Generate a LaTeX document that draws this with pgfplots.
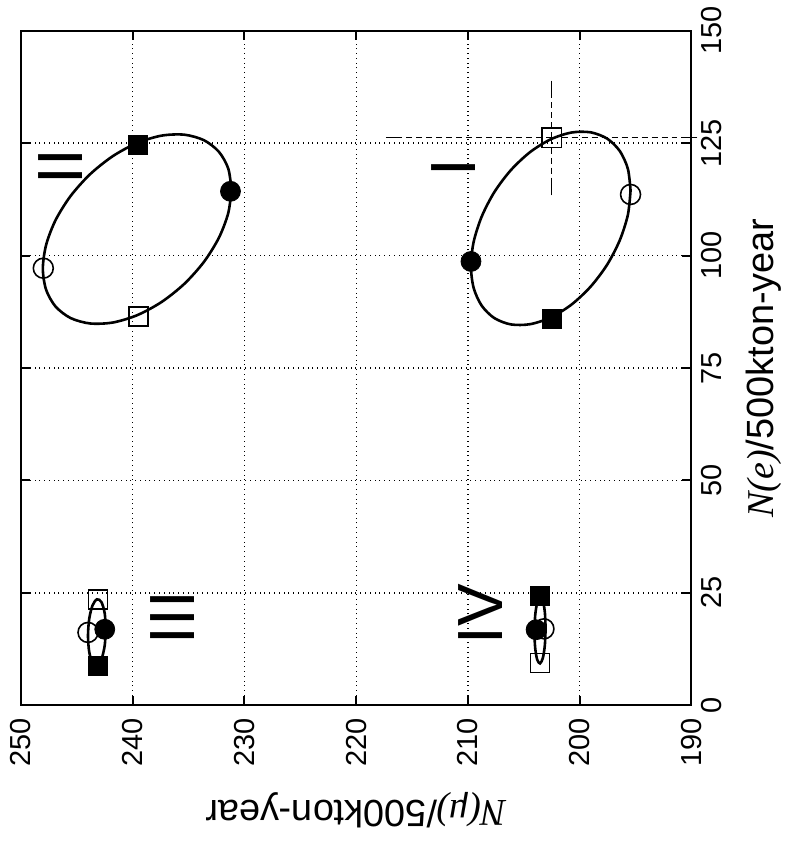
\documentclass[border=0pt]{standalone}
\usepackage{pgfplots}
\pgfplotsset{compat=1.18}
\usepackage{fontspec}
\setmainfont{Liberation Sans}
\newfontfamily\serifit{Liberation Serif}[UprightFont=*-Italic]
\begin{document}
\begin{tikzpicture}
\begin{axis}[
  scale only axis, width=336pt, height=338pt,
  x dir=reverse,
  xmin=190, xmax=250, ymin=0, ymax=150,
  xtick={190,200,...,250}, ytick={0,25,...,150},
  yticklabel pos=right,
  grid=major, major grid style={dotted, black, line width=0.7pt},
  axis line style={line width=1pt},
  tick style={black, line width=1pt}, major tick length=4.5pt,
  /pgf/number format/assume math mode=true,
  xticklabel style={rotate=90, anchor=east, font=\fontsize{14.5}{14.5}\selectfont},
  yticklabel style={rotate=90, anchor=north, font=\fontsize{14.5}{14.5}\selectfont},
  xticklabel shift=3pt, yticklabel shift=1.5pt,
  clip=false,
]
% --- ellipse II
\addplot[black, line width=1.3pt, smooth] coordinates {
  (231.16,114.71) (231.45,119.37) (232.29,123.10) (233.63,125.67)
  (235.38,126.89) (237.42,126.68) (239.60,125.05) (241.78,122.12)
  (243.82,118.08) (245.57,113.21) (246.91,107.85) (247.75,102.35)
  (248.04,97.09) (247.75,92.43) (246.91,88.70) (245.57,86.13)
  (243.82,84.91) (241.78,85.12) (239.60,86.75) (237.42,89.68)
  (235.38,93.72) (233.63,98.59) (232.29,103.95) (231.45,109.45)
  (231.16,114.71)
};
% --- ellipse I
\addplot[black, line width=1.3pt, smooth] coordinates {
  (195.45,114.47) (195.69,119.31) (196.41,123.25) (197.54,126.01)
  (199.02,127.42) (200.74,127.37) (202.59,125.87) (204.44,123.02)
  (206.16,119.01) (207.64,114.12) (208.77,108.68) (209.49,103.06)
  (209.73,97.65) (209.49,92.81) (208.77,88.87) (207.64,86.11)
  (206.16,84.70) (204.44,84.75) (202.59,86.25) (200.74,89.10)
  (199.02,93.11) (197.54,98.00) (196.41,103.44) (195.69,109.06)
  (195.45,114.47)
};
% --- ellipse III
\addplot[black, line width=1.3pt, smooth] coordinates {
  (242.40,16.97) (242.51,20.55) (242.80,22.96) (243.20,23.56)
  (243.60,22.19) (243.89,19.21) (244.00,15.43) (243.89,11.85)
  (243.60,9.44) (243.20,8.84) (242.80,10.21) (242.51,13.19)
  (242.40,16.97)
};
% --- ellipse IV
\addplot[black, line width=1.3pt, smooth] coordinates {
  (203.05,17.09) (203.12,20.73) (203.30,23.29) (203.55,24.09)
  (203.80,22.91) (203.98,20.06) (204.05,16.31) (203.98,12.67)
  (203.80,10.11) (203.55,9.31) (203.30,10.49) (203.12,13.34)
  (203.05,17.09)
};
% open square with error bars (I)
\addplot[only marks, mark=square, mark size=4.8pt,
  mark options={solid, fill=none, line width=0.8pt},
  error bars/.cd, x dir=both, x explicit, y dir=both, y explicit,
  error bar style={densely dashed, line width=0.7pt},
  error mark options={solid, line width=0.7pt, mark size=3pt}]
  coordinates {(202.5,126.2) += (14.3,11.4) -= (12.5,11.5)};
% filled squares
\addplot[only marks, mark=square*, mark size=4.8pt, black] coordinates {
  (239.55,124.7) (202.5,85.9) (243.1,8.8) (203.55,24.3)
};
% open squares
\addplot[only marks, mark=square, mark size=4.8pt, black,
  mark options={fill=none, line width=0.8pt}] coordinates {
  (239.5,86.5) (243.1,23.5) (203.55,9.4)
};
% filled circles
\addplot[only marks, mark=*, mark size=5pt, black] coordinates {
  (231.25,114.3) (209.73,98.7) (242.5,16.9) (203.9,16.8)
};
% open circles
\addplot[only marks, mark=o, mark size=5pt, black,
  mark options={fill=none, line width=0.8pt}] coordinates {
  (248.0,97.2) (195.45,113.6) (244.0,16.2) (203.2,17.0)
};
% scenario labels
\node[rotate=90, font=\fontsize{32}{32}\selectfont, inner sep=0pt] at (axis cs:246.5,119.8) {II};
\node[rotate=90, font=\fontsize{32}{32}\selectfont, inner sep=0pt] at (axis cs:211.3,119.6) {I};
\node[rotate=90, font=\fontsize{32}{32}\selectfont, inner sep=0pt] at (axis cs:236.4,19.5) {III};
\node[rotate=90, font=\fontsize{32}{32}\selectfont, inner sep=0pt] at (axis cs:208.9,20.2) {IV};
% axis labels
\node[rotate=180, font=\fontsize{19}{19}\selectfont] at (axis description cs:0.5,-0.155)
  {{\serifit N(\char"03BC)}/500kton-year};
\node[rotate=90, font=\fontsize{19}{19}\selectfont] at (axis description cs:1.108,0.5)
  {{\serifit N(e)}/500kton-year};
% page extent
\path (axis description cs:-0.03125,-0.2027) (axis description cs:1.1488,1.0429);
\end{axis}
\end{tikzpicture}
\end{document}
